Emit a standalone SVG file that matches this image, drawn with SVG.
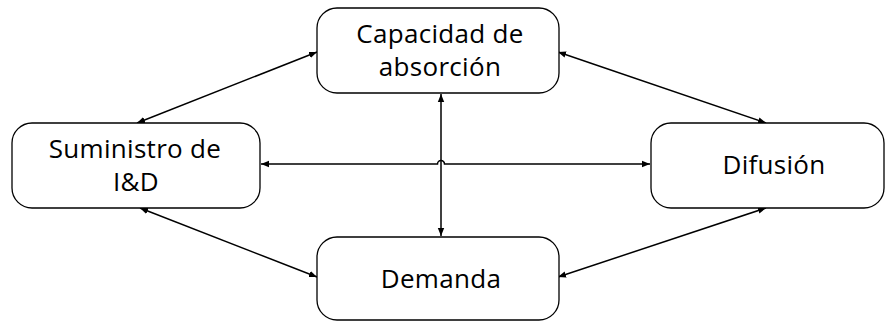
<svg xmlns="http://www.w3.org/2000/svg" width="886" height="322" viewBox="0 0 886 322">
<style>
.box{fill:#fff;stroke:#000;stroke-width:1.3}
.t{font-family:"Open Sans","Noto Sans",sans-serif;font-size:26px;fill:#000;text-anchor:middle;letter-spacing:0.3px}
.c{fill:none;stroke:#000;stroke-width:1.5}
</style>
<defs>
<marker id="a" viewBox="0 0 10 10" refX="10" refY="5" markerWidth="8" markerHeight="8" markerUnits="userSpaceOnUse" orient="auto-start-reverse"><path d="M0,1 L10,5 L0,9 Z" fill="#000"/></marker>
</defs>
<rect width="886" height="322" fill="#fff"/>
<g id="connectors">
<line class="c" x1="317" y1="52" x2="137" y2="123" marker-start="url(#a)" marker-end="url(#a)"/>
<line class="c" x1="558" y1="52" x2="766" y2="123" marker-start="url(#a)" marker-end="url(#a)"/>
<path class="c" d="M261,164 H437.5 A3.5,3.5 0 0 1 444.5,164 H650" marker-start="url(#a)" marker-end="url(#a)"/>
<line class="c" x1="441" y1="94" x2="441" y2="236" marker-start="url(#a)" marker-end="url(#a)"/>
<line class="c" x1="140" y1="208" x2="317" y2="277" marker-start="url(#a)" marker-end="url(#a)"/>
<line class="c" x1="558" y1="277" x2="766" y2="208" marker-start="url(#a)" marker-end="url(#a)"/>
</g>
<g id="capacidad">
<rect class="box" x="317" y="8" width="242" height="85" rx="20"/>
<text class="t" x="440" y="43">Capacidad de</text>
<text class="t" x="440" y="76">absorción</text>
</g>
<g id="suministro">
<rect class="box" x="12" y="123" width="248" height="85" rx="20"/>
<text class="t" x="135" y="158">Suministro de</text>
<text class="t" x="136" y="191">I&amp;D</text>
</g>
<g id="difusion">
<rect class="box" x="651" y="123" width="233" height="85" rx="20"/>
<text class="t" x="774" y="174">Difusión</text>
</g>
<g id="demanda">
<rect class="box" x="317" y="237" width="242" height="83" rx="20"/>
<text class="t" x="441" y="288">Demanda</text>
</g>
</svg>
